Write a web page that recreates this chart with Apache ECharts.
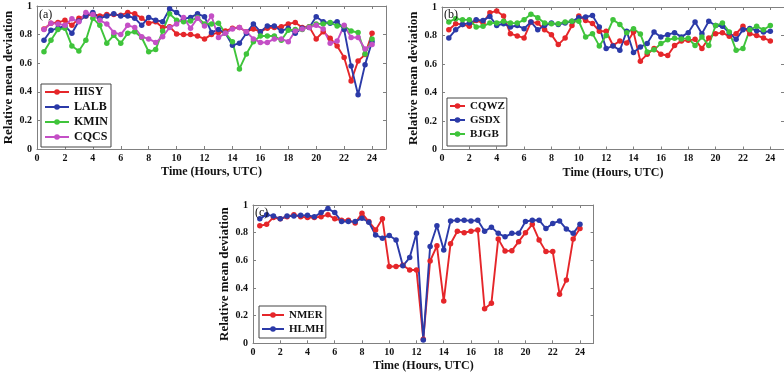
<!DOCTYPE html>
<html>
<head>
<meta charset="utf-8">
<script src="https://cdn.jsdelivr.net/npm/echarts@6/dist/echarts.min.js"></script>
<style>
  html, body { margin: 0; padding: 0; background: #fff; }
  #chart { width: 784px; height: 375px; }
</style>
</head>
<body>
<div id="chart"></div>
<script>
// sampling times (hours, UTC)
const hours = [0.5, 1, 1.5, 2, 2.5, 3, 3.5, 4, 4.5, 5, 5.5, 6,
  6.5, 7, 7.5, 8, 8.5, 9, 9.5, 10, 10.5, 11, 11.5, 12,
  12.5, 13, 13.5, 14, 14.5, 15, 15.5, 16, 16.5, 17, 17.5, 18,
  18.5, 19, 19.5, 20, 20.5, 21, 21.5, 22, 22.5, 23, 23.5, 24];

const xTicks = [0, 2, 4, 6, 8, 10, 12, 14, 16, 18, 20, 22, 24];
const yTicks = [0, 0.2, 0.4, 0.6, 0.8, 1];

// panel (a)
const HISY = [0.84, 0.88, 0.885, 0.90, 0.865, 0.915, 0.93, 0.945, 0.93, 0.94, 0.94, 0.935,
  0.955, 0.945, 0.915, 0.88, 0.89, 0.85, 0.855, 0.805, 0.80, 0.80, 0.79, 0.77,
  0.80, 0.815, 0.825, 0.845, 0.85, 0.82, 0.84, 0.82, 0.845, 0.85, 0.855, 0.875,
  0.885, 0.85, 0.855, 0.77, 0.82, 0.775, 0.72, 0.64, 0.475, 0.615, 0.66, 0.81];
const LALB = [0.76, 0.83, 0.845, 0.86, 0.81, 0.895, 0.93, 0.955, 0.915, 0.93, 0.945, 0.93,
  0.93, 0.915, 0.865, 0.92, 0.90, 0.89, 0.98, 0.955, 0.91, 0.92, 0.945, 0.925,
  0.815, 0.835, 0.81, 0.725, 0.74, 0.81, 0.875, 0.82, 0.86, 0.86, 0.825, 0.845,
  0.81, 0.845, 0.85, 0.925, 0.89, 0.88, 0.89, 0.835, 0.58, 0.38, 0.59, 0.75];
const KMIN = [0.68, 0.76, 0.835, 0.845, 0.72, 0.685, 0.76, 0.915, 0.865, 0.74, 0.795, 0.74,
  0.81, 0.82, 0.78, 0.68, 0.695, 0.825, 0.945, 0.90, 0.89, 0.895, 0.92, 0.875,
  0.875, 0.88, 0.81, 0.75, 0.56, 0.665, 0.75, 0.79, 0.79, 0.79, 0.76, 0.83,
  0.835, 0.835, 0.855, 0.875, 0.875, 0.885, 0.86, 0.86, 0.825, 0.815, 0.665, 0.77];
const CQCS = [0.835, 0.88, 0.875, 0.865, 0.91, 0.89, 0.955, 0.94, 0.90, 0.875, 0.815, 0.80,
  0.865, 0.85, 0.785, 0.77, 0.745, 0.785, 0.85, 0.875, 0.92, 0.845, 0.915, 0.86,
  0.93, 0.78, 0.81, 0.84, 0.85, 0.82, 0.77, 0.745, 0.745, 0.77, 0.77, 0.75,
  0.825, 0.84, 0.85, 0.865, 0.84, 0.74, 0.755, 0.865, 0.78, 0.78, 0.70, 0.73];

// panel (b)
const CQWZ = [0.84, 0.883, 0.878, 0.865, 0.906, 0.887, 0.96, 0.972, 0.937, 0.813, 0.797, 0.783,
  0.895, 0.887, 0.84, 0.806, 0.736, 0.783, 0.87, 0.937, 0.906, 0.885, 0.83, 0.83,
  0.73, 0.762, 0.748, 0.825, 0.62, 0.668, 0.708, 0.668, 0.66, 0.73, 0.762, 0.766,
  0.773, 0.708, 0.783, 0.813, 0.82, 0.794, 0.813, 0.865, 0.813, 0.80, 0.783, 0.762];
const GSDX = [0.783, 0.84, 0.878, 0.887, 0.91, 0.906, 0.934, 0.87, 0.883, 0.86, 0.87, 0.848,
  0.895, 0.84, 0.87, 0.887, 0.878, 0.887, 0.90, 0.925, 0.93, 0.94, 0.86, 0.708,
  0.727, 0.696, 0.83, 0.68, 0.72, 0.743, 0.825, 0.79, 0.806, 0.82, 0.79, 0.82,
  0.895, 0.813, 0.90, 0.87, 0.865, 0.82, 0.773, 0.84, 0.85, 0.834, 0.825, 0.83];
const BJGB = [0.895, 0.918, 0.91, 0.91, 0.86, 0.865, 0.887, 0.887, 0.90, 0.887, 0.887, 0.91,
  0.95, 0.925, 0.887, 0.883, 0.883, 0.895, 0.90, 0.90, 0.79, 0.813, 0.727, 0.80,
  0.91, 0.878, 0.82, 0.848, 0.81, 0.685, 0.70, 0.743, 0.77, 0.78, 0.776, 0.78,
  0.73, 0.79, 0.73, 0.87, 0.887, 0.825, 0.696, 0.708, 0.84, 0.865, 0.84, 0.87];

// panel (c)
const NMER = [0.85, 0.86, 0.91, 0.90, 0.915, 0.93, 0.915, 0.91, 0.91, 0.915, 0.93, 0.90,
  0.89, 0.89, 0.87, 0.94, 0.88, 0.82, 0.90, 0.555, 0.555, 0.565, 0.53, 0.53,
  0.03, 0.595, 0.705, 0.305, 0.72, 0.81, 0.80, 0.81, 0.82, 0.25, 0.29, 0.755,
  0.667, 0.67, 0.735, 0.80, 0.86, 0.747, 0.663, 0.663, 0.355, 0.458, 0.755, 0.83];
const HLMH = [0.90, 0.93, 0.92, 0.90, 0.92, 0.92, 0.925, 0.925, 0.915, 0.945, 0.975, 0.945,
  0.88, 0.88, 0.88, 0.905, 0.875, 0.783, 0.76, 0.78, 0.747, 0.56, 0.62, 0.795,
  0.024, 0.70, 0.85, 0.675, 0.885, 0.89, 0.89, 0.885, 0.89, 0.81, 0.84, 0.795,
  0.77, 0.795, 0.795, 0.88, 0.89, 0.89, 0.83, 0.867, 0.885, 0.826, 0.795, 0.86];

const RED = '#e5262a', BLUE = '#2b3aa8', GREEN = '#3fc43b', MAGENTA = '#c44fc6';
const FONT = "'Times New Roman', 'Liberation Serif', serif";
const AXIS_COLOR = '#808080';

const panels = [
  { grid: { left: 37, top: 6, width: 349, height: 143 },
    label: '(a)', labelPos: [39, 9],
    legend: { left: 41, top: 84, itemWidth: 24, fontSize: 12, itemGap: 3, padding: [2, 3, 4, 3] },
    series: [['HISY', HISY, RED], ['LALB', LALB, BLUE], ['KMIN', KMIN, GREEN], ['CQCS', CQCS, MAGENTA]] },
  { grid: { left: 442, top: 7, width: 349, height: 142.5 },
    label: '(b)', labelPos: [444, 9],
    legend: { left: 447, top: 98, itemWidth: 15, fontSize: 11, itemGap: 2, padding: [2, 2, 6, 2] },
    series: [['CQWZ', CQWZ, RED], ['GSDX', GSDX, BLUE], ['BJGB', BJGB, GREEN]] },
  { grid: { left: 253, top: 205, width: 340.6, height: 138.3 },
    label: '(c)', labelPos: [255, 207],
    legend: { left: 259, top: 306, itemWidth: 22, fontSize: 11, itemGap: 2, padding: [3, 2, 3, 2] },
    series: [['NMER', NMER, RED], ['HLMH', HLMH, BLUE]] }
];

const tickLabel = { fontFamily: FONT, fontWeight: 'bold', fontSize: 10, color: '#111' };
const nameStyle = { fontFamily: FONT, fontWeight: 'bold', color: '#111' };

function makeAxes(g) {
  const common = {
    gridIndex: g,
    axisLine: { show: true, onZero: false, lineStyle: { color: AXIS_COLOR, width: 1 } },
    axisTick: { show: true, inside: true, length: 3, lineStyle: { color: AXIS_COLOR } },
    splitLine: { show: false }
  };
  const x = {
    ...common, type: 'value', min: 0, max: 25, interval: 2
  };
  const y = {
    ...common, type: 'value', min: yTicks[0], max: yTicks[yTicks.length - 1], interval: 0.2
  };
  return {
    xAxis: [
      { ...x, position: 'bottom',
        axisLabel: { ...tickLabel, margin: 4, showMaxLabel: false,
          formatter: v => xTicks.includes(v) ? String(v) : '' },
        name: 'Time (Hours, UTC)', nameLocation: 'middle', nameGap: 17,
        nameTextStyle: { ...nameStyle, fontSize: 12 } },
      { ...x, position: 'top', axisLabel: { show: false } }
    ],
    yAxis: [
      { ...y, position: 'left',
        axisLabel: { ...tickLabel, margin: 5, formatter: v => String(+v.toFixed(1)) },
        name: 'Relative mean deviation', nameLocation: 'middle', nameGap: 19,
        nameTextStyle: { ...nameStyle, fontSize: 13 } },
      { ...y, position: 'right', axisLabel: { show: false } }
    ]
  };
}

const option = {
  animation: false,
  backgroundColor: '#fff',
  grid: [], xAxis: [], yAxis: [], series: [], legend: [], graphic: []
};

panels.forEach((p, g) => {
  option.grid.push(p.grid);
  const axes = makeAxes(g);
  option.xAxis.push(...axes.xAxis);
  option.yAxis.push(...axes.yAxis);
  option.legend.push({
    data: p.series.map(s => s[0]),
    orient: 'vertical',
    left: p.legend.left,
    top: p.legend.top,
    itemWidth: p.legend.itemWidth,
    itemHeight: 7,
    itemGap: p.legend.itemGap,
    padding: p.legend.padding,
    borderColor: '#444',
    borderWidth: 1,
    backgroundColor: '#fff',
    selectedMode: false,
    textStyle: { fontFamily: FONT, fontWeight: 'bold', fontSize: p.legend.fontSize, lineHeight: 12, color: '#111' }
  });
  p.series.forEach(([name, vals, color]) => {
    option.series.push({
      name: name,
      type: 'line',
      xAxisIndex: g * 2,
      yAxisIndex: g * 2,
      data: hours.map((h, i) => [h, vals[i]]),
      symbol: 'circle',
      symbolSize: 5.5,
      showAllSymbol: true,
      color: color,
      lineStyle: { width: 1.9, color: color },
      itemStyle: { color: color }
    });
  });
  option.graphic.push({
    type: 'text', left: p.labelPos[0], top: p.labelPos[1], z: 100,
    style: { text: p.label, font: "12px 'Times New Roman', 'Liberation Serif', serif", fill: '#111' }
  });
});

const chart = echarts.init(document.getElementById('chart'));
chart.setOption(option);
</script>
</body>
</html>
